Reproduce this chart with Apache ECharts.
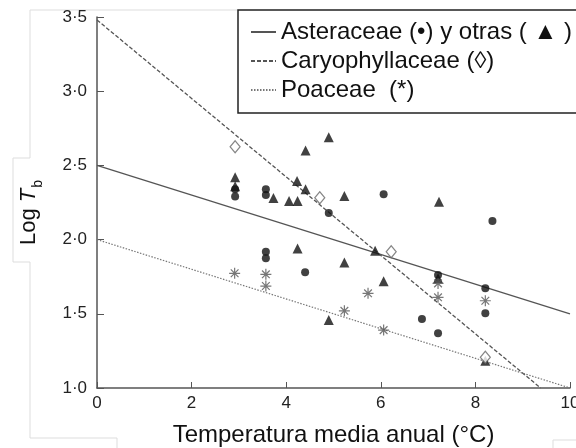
<!DOCTYPE html>
<html lang="es" style="height: 100%">
<head>
  <meta charset="utf-8">
</head>
<body style="height: 100%; margin: 0; background: #fff">
  <div id="container" style="width: 576px; height: 448px"></div>

  <script type="text/javascript" src="https://cdn.jsdelivr.net/npm/echarts@6/dist/echarts.min.js"></script>
  <script type="text/javascript">
    // puntos: [temperatura, log Tb]
    var asteraceae = [
      [2.92, 2.34], [2.92, 2.29], [3.57, 2.34], [3.57, 2.30], [4.90, 2.18],
      [6.06, 2.305], [8.36, 2.125], [3.57, 1.918], [3.57, 1.874], [4.40, 1.78],
      [7.21, 1.761], [6.87, 1.465], [7.21, 1.369], [8.21, 1.672], [8.21, 1.503]
    ];
    var otras = [
      [2.92, 2.42], [2.92, 2.36], [3.73, 2.28], [4.06, 2.26], [4.24, 2.26],
      [4.23, 2.395], [4.41, 2.34], [4.41, 2.60], [4.90, 2.69], [5.23, 2.294],
      [7.23, 2.255], [5.88, 1.925], [4.24, 1.94], [5.23, 1.845], [4.90, 1.458],
      [6.06, 1.72], [7.21, 1.74], [8.21, 1.184]
    ];
    var caryophyllaceae = [[2.92, 2.626], [4.71, 2.282], [6.22, 1.918], [8.21, 1.207]];
    var poaceae = [
      [2.91, 1.773], [3.57, 1.766], [3.57, 1.687], [5.73, 1.638], [5.23, 1.52],
      [6.06, 1.39], [7.21, 1.705], [7.21, 1.611], [8.21, 1.588]
    ];

    // rectas de regresión (extremos)
    var lineaAster = [[0, 2.5], [10, 1.5]];
    var lineaCaryo = [[0, 3.48], [9.38, 1.0]];
    var lineaPoa = [[0, 2.0], [10, 1.0]];

    var nombres = ['Asteraceae (•) y otras ( ▲ )', 'Caryophyllaceae (◊)', 'Poaceae  (*)'];

    var asterisco = 'path://M0,-6L0,6M-6,0L6,0M-4.2,-4.2L4.2,4.2M-4.2,4.2L4.2,-4.2';
    var fuente = '"Liberation Sans", Arial, sans-serif';

    var myChart = echarts.init(document.getElementById('container'), null, { renderer: 'canvas' });

    var option = {
      backgroundColor: '#fff',
      animation: false,
      textStyle: { fontFamily: fuente },
      grid: { left: 97, top: 17, right: 6, bottom: 60, outerBoundsMode: 'none', containLabel: false },
      legend: {
        data: nombres,
        orient: 'vertical',
        left: 238,
        top: 10,
        padding: [10, 60, 11, 12],
        itemGap: 5,
        itemWidth: 25,
        itemHeight: 14,
        itemStyle: { opacity: 0 },
        borderColor: '#222',
        borderWidth: 1.5,
        textStyle: { fontSize: 24, color: '#111', fontFamily: fuente }
      },
      xAxis: {
        type: 'value',
        min: 0,
        max: 10,
        interval: 2,
        name: 'Temperatura media anual (°C)',
        nameLocation: 'middle',
        nameGap: 35,
        nameTextStyle: { fontSize: 24, color: '#111' },
        splitLine: { show: false },
        axisLine: { lineStyle: { color: '#555', width: 1.5 } },
        axisTick: { inside: true, length: 6, lineStyle: { color: '#555' } },
        axisLabel: { fontSize: 17, color: '#222', margin: 7 }
      },
      yAxis: {
        type: 'value',
        min: 1.0,
        max: 3.5,
        interval: 0.5,
        name: '{n|Log }{t|T}{s|b}',
        nameLocation: 'middle',
        nameRotate: 90,
        nameGap: 52,
        nameTextStyle: {
          color: '#111',
          rich: {
            n: { fontSize: 22, color: '#111', verticalAlign: 'bottom', padding: [0, 0, 5, 0] },
            t: { fontSize: 22, fontStyle: 'italic', color: '#111', verticalAlign: 'bottom', padding: [0, 0, 5, 0] },
            s: { fontSize: 14, color: '#111', verticalAlign: 'bottom', padding: [0, 20, 0, 1] }
          }
        },
        splitLine: { show: false },
        axisLine: { show: true, lineStyle: { color: '#555', width: 1.5 } },
        axisTick: { show: true, inside: true, length: 7, lineStyle: { color: '#555' } },
        axisLabel: {
          fontSize: 17,
          color: '#222',
          margin: 10,
          formatter: function (v) { return v.toFixed(1).replace('.', '·'); }
        }
      },
      series: [
        {
          name: nombres[0], type: 'line', data: lineaAster, symbol: 'none',
          lineStyle: { color: '#555', width: 1.3, type: 'solid' }, itemStyle: { color: '#222' }, z: 1
        },
        {
          name: nombres[1], type: 'line', data: lineaCaryo, symbol: 'none',
          lineStyle: { color: '#555', width: 1.3, type: [4, 2] }, itemStyle: { color: '#222' }, z: 1
        },
        {
          name: nombres[2], type: 'line', data: lineaPoa, symbol: 'none',
          lineStyle: { color: '#777', width: 1.2, type: [1.5, 1.5] }, itemStyle: { color: '#222' }, z: 1
        },
        {
          type: 'scatter', data: asteraceae, symbol: 'circle', symbolSize: 8,
          itemStyle: { color: '#111' }, z: 3
        },
        {
          type: 'scatter', data: otras, symbol: 'triangle', symbolSize: 10,
          itemStyle: { color: '#111' }, z: 3
        },
        {
          type: 'scatter', data: caryophyllaceae, symbol: 'diamond', symbolSize: [10, 12],
          itemStyle: { color: '#fff', borderColor: '#666', borderWidth: 1.2 }, z: 4
        },
        {
          type: 'scatter', data: poaceae, symbol: asterisco, symbolSize: 11,
          itemStyle: { color: 'none', borderColor: '#555', borderWidth: 1.2 }, z: 3
        }
      ],
      graphic: [
        {
          type: 'polyline', silent: true, z: -1,
          shape: { points: [[238, 10], [30, 10], [30, 158], [13, 158], [13, 262], [30, 262], [30, 438], [117, 438], [117, 448]] },
          style: { stroke: '#ddd', lineWidth: 1, fill: null }
        },
        {
          type: 'polyline', silent: true, z: -1,
          shape: { points: [[553, 448], [553, 440], [576, 440]] },
          style: { stroke: '#ddd', lineWidth: 1, fill: null }
        }
      ]
    };

    myChart.setOption(option);
    window.addEventListener('resize', myChart.resize);
  </script>
</body>
</html>
